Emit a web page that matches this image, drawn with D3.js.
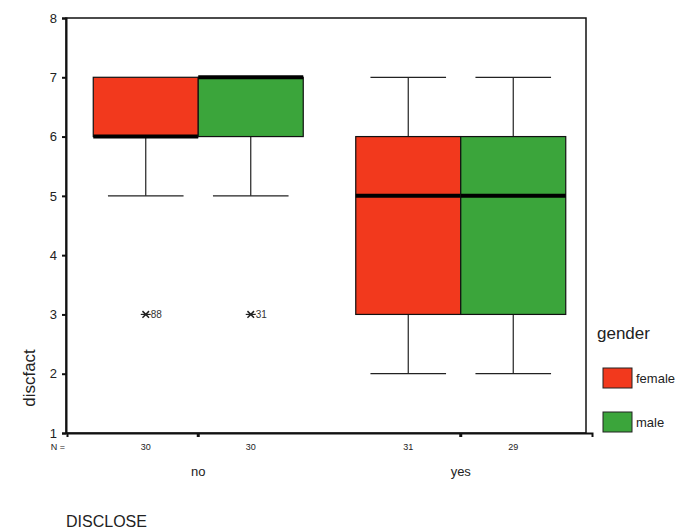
<!DOCTYPE html>
<html>
<head>
<meta charset="utf-8">
<script src="https://cdn.jsdelivr.net/npm/d3@7"></script>
<style>
    body { margin: 0; background: #fff; }
    svg { font-family: Arial, "Liberation Sans", sans-serif; }
</style>
</head>
<body>
<div id="chart"></div>
<script>
    // data
    var categories = ["no", "yes"];
    var genders = ["female", "male"];
    var counts = [[30, 30], [31, 29]];
    // [whiskerLow, q1, median, q3, whiskerHigh] for each category x gender
    var stats = [
        [[5, 6, 6, 7, 7], [5, 6, 7, 7, 7]],
        [[2, 3, 5, 6, 7], [2, 3, 5, 6, 7]]
    ];
    var outliers = [
        { cat: "no", gender: "female", value: 3, label: "88" },
        { cat: "no", gender: "male", value: 3, label: "31" }
    ];
    var yTicks = [1, 2, 3, 4, 5, 6, 7, 8];
    var colors = { female: "#f2391d", male: "#3ba53b" };

    var width = 689, height = 530;
    var margin = { top: 18, right: 103, bottom: 97, left: 66 };

    var svg = d3.select("#chart").append("svg")
        .attr("width", width)
        .attr("height", height);

    var y = d3.scaleLinear().domain([1, 8]).range([height - margin.bottom, margin.top]);
    var x = d3.scaleBand().domain(categories)
        .range([67, 592])
        .paddingInner(0.2)
        .paddingOuter(0.1);
    var xg = d3.scaleBand().domain(genders).range([0, x.bandwidth()]);

    var plotBottom = height - margin.bottom;
    var plotRight = width - margin.right;

    // frame
    svg.append("rect")
        .attr("x", margin.left).attr("y", margin.top)
        .attr("width", plotRight - margin.left)
        .attr("height", plotBottom - margin.top)
        .attr("fill", "none").attr("stroke", "#111").attr("stroke-width", 1.5);

    // y axis
    var yAxis = svg.append("g")
        .attr("transform", "translate(" + margin.left + ",0)")
        .call(d3.axisLeft(y).tickValues(yTicks).tickFormat(d3.format("d")).tickSize(4).tickPadding(5));
    yAxis.select(".domain").attr("stroke", "#111").attr("stroke-width", 2);
    yAxis.selectAll(".tick line").attr("stroke", "#111").attr("stroke-width", 2);
    yAxis.selectAll("text").attr("font-size", 13).attr("fill", "#222");

    // x axis ticks (category centres)
    var xAxis = svg.append("g")
        .attr("transform", "translate(0," + plotBottom + ")")
        .call(d3.axisBottom(x).tickSize(4).tickFormat(""));
    xAxis.select(".domain").attr("stroke", "#111").attr("stroke-width", 2);
    xAxis.selectAll(".tick line").attr("stroke", "#111").attr("stroke-width", 3);

    svg.append("g").selectAll("text.cat")
        .data(categories)
        .enter().append("text")
        .attr("x", function (d) { return x(d) + x.bandwidth() / 2; })
        .attr("y", plotBottom + 43)
        .attr("text-anchor", "middle")
        .attr("font-size", 13)
        .attr("fill", "#222")
        .text(function (d) { return d; });

    // boxes
    var boxes = [];
    categories.forEach(function (c, i) {
        genders.forEach(function (g, j) {
            boxes.push({ cat: c, gender: g, s: stats[i][j], n: counts[i][j] });
        });
    });

    var box = svg.append("g").selectAll("g.box")
        .data(boxes)
        .enter().append("g")
        .attr("class", "box")
        .attr("transform", function (d) { return "translate(" + (x(d.cat) + xg(d.gender)) + ",0)"; });

    var bw = xg.bandwidth();
    var cx = bw / 2;
    var capW = bw * 0.72;

    box.append("line")
        .attr("x1", cx).attr("x2", cx)
        .attr("y1", function (d) { return y(d.s[0]); })
        .attr("y2", function (d) { return y(d.s[1]); })
        .attr("stroke", "#222").attr("stroke-width", 1.2);
    box.append("line")
        .attr("x1", cx).attr("x2", cx)
        .attr("y1", function (d) { return y(d.s[3]); })
        .attr("y2", function (d) { return y(d.s[4]); })
        .attr("stroke", "#222").attr("stroke-width", 1.2);
    box.filter(function (d) { return d.s[0] < d.s[1]; }).append("line")
        .attr("x1", cx - capW / 2).attr("x2", cx + capW / 2)
        .attr("y1", function (d) { return y(d.s[0]); })
        .attr("y2", function (d) { return y(d.s[0]); })
        .attr("stroke", "#222").attr("stroke-width", 1.2);
    box.filter(function (d) { return d.s[4] > d.s[3]; }).append("line")
        .attr("x1", cx - capW / 2).attr("x2", cx + capW / 2)
        .attr("y1", function (d) { return y(d.s[4]); })
        .attr("y2", function (d) { return y(d.s[4]); })
        .attr("stroke", "#222").attr("stroke-width", 1.2);

    box.append("rect")
        .attr("x", 0).attr("width", bw)
        .attr("y", function (d) { return y(d.s[3]); })
        .attr("height", function (d) { return y(d.s[1]) - y(d.s[3]); })
        .attr("fill", function (d) { return colors[d.gender]; })
        .attr("stroke", "#111").attr("stroke-width", 1.2);

    box.append("line")
        .attr("x1", 0).attr("x2", bw)
        .attr("y1", function (d) { return y(d.s[2]); })
        .attr("y2", function (d) { return y(d.s[2]); })
        .attr("stroke", "#000").attr("stroke-width", 4);

    // N labels
    svg.append("text")
        .attr("x", margin.left - 8).attr("y", plotBottom + 17)
        .attr("font-size", 9).attr("fill", "#222").attr("text-anchor", "middle")
        .text("N =");
    box.append("text")
        .attr("x", cx).attr("y", plotBottom + 17)
        .attr("text-anchor", "middle")
        .attr("font-size", 9).attr("fill", "#222")
        .text(function (d) { return d.n; });

    // outliers
    var out = svg.append("g").selectAll("g.out")
        .data(outliers)
        .enter().append("g")
        .attr("transform", function (d) {
            return "translate(" + (x(d.cat) + xg(d.gender) + bw / 2) + "," + y(d.value) + ")";
        });
    out.append("path")
        .attr("d", d3.symbol(d3.symbolTimes, 30))
        .attr("stroke", "#222").attr("stroke-width", 1.5).attr("fill", "none");
    out.append("line")
        .attr("x1", -5).attr("x2", 5).attr("stroke", "#222").attr("stroke-width", 1.2);
    out.append("text")
        .attr("x", 5).attr("y", 3.5)
        .attr("font-size", 10).attr("fill", "#333")
        .text(function (d) { return d.label; });

    // axis titles
    svg.append("text")
        .attr("transform", "translate(35,378) rotate(-90)")
        .attr("text-anchor", "middle")
        .attr("font-size", 17).attr("fill", "#222")
        .text("discfact");
    svg.append("text")
        .attr("x", margin.left).attr("y", 527)
        .attr("font-size", 16).attr("fill", "#222")
        .text("DISCLOSE");

    // legend
    var legend = svg.append("g").attr("transform", "translate(597,0)");
    legend.append("text")
        .attr("x", 0).attr("y", 339)
        .attr("font-size", 17).attr("fill", "#222")
        .text("gender");
    var li = legend.selectAll("g.li")
        .data(genders)
        .enter().append("g")
        .attr("transform", function (d, i) { return "translate(6," + (368 + i * 44) + ")"; });
    li.append("rect")
        .attr("width", 29).attr("height", 20)
        .attr("fill", function (d) { return colors[d]; })
        .attr("stroke", "#222").attr("stroke-width", 1);
    li.append("text")
        .attr("x", 33).attr("y", 15)
        .attr("font-size", 13).attr("fill", "#222")
        .text(function (d) { return d; });
</script>
</body>
</html>
